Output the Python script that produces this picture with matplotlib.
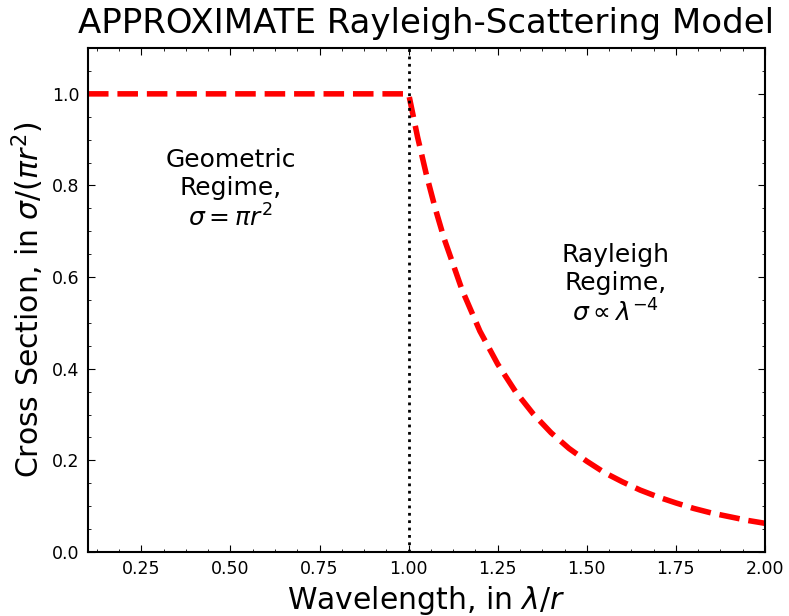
import numpy as np
import matplotlib
matplotlib.use('Agg')
import matplotlib.pyplot as plt
from matplotlib.ticker import AutoMinorLocator

# cross section vs wavelength
wavelength = [0.10, 1.00, 1.025, 1.05, 1.075, 1.10, 1.15, 1.20, 1.25, 1.30, 1.35, 1.40,
              1.45, 1.50, 1.55, 1.60, 1.65, 1.70, 1.75, 1.80, 1.85, 1.90, 1.95, 2.00]
sigma = [1.00, 1.00, 0.906, 0.823, 0.749, 0.683, 0.572, 0.482, 0.410, 0.350, 0.301, 0.260,
         0.226, 0.198, 0.173, 0.153, 0.135, 0.120, 0.107, 0.095, 0.085, 0.077, 0.069, 0.0625]
x_boundary = 1.0

fig = plt.figure(figsize=(7.89, 6.16), dpi=100)
ax = fig.add_axes([0.1115, 0.104, 0.858, 0.818])

ax.plot(wavelength, sigma, linestyle='--', color='red', linewidth=4)
ax.axvline(x_boundary, linestyle=':', color='black', linewidth=2)

ax.text(0.5, 0.79, "Geometric\nRegime,\n$\\sigma = \\pi r^2$", fontsize=18,
        ha='center', va='center', linespacing=1.2)
ax.text(1.58, 0.583, "Rayleigh\nRegime,\n$\\sigma \\propto \\lambda^{-4}$", fontsize=18,
        ha='center', va='center', linespacing=1.2)

ax.set_xlim(0.1, 2.0)
ax.set_ylim(0.0, 1.1)
ax.set_xticks([0.25, 0.5, 0.75, 1.0, 1.25, 1.5, 1.75, 2.0])
ax.set_yticks([0.0, 0.2, 0.4, 0.6, 0.8, 1.0])
ax.xaxis.set_minor_locator(AutoMinorLocator(4))
ax.yaxis.set_minor_locator(AutoMinorLocator(4))
ax.tick_params(which='both', direction='in', top=True, right=True, labelsize=12.5)
ax.tick_params(which='major', length=5, pad=6)
ax.tick_params(which='minor', length=2.5)
for s in ax.spines.values():
    s.set_linewidth(1.5)

ax.set_xlabel("Wavelength, in $\\lambda/r$", fontsize=21.5, labelpad=4)
ax.set_ylabel("Cross Section, in $\\sigma/(\\pi r^2)$", fontsize=21.5, labelpad=4)
ax.set_title("APPROXIMATE Rayleigh-Scattering Model", fontsize=24.5, pad=11)

plt.savefig('out.png', dpi=100)
